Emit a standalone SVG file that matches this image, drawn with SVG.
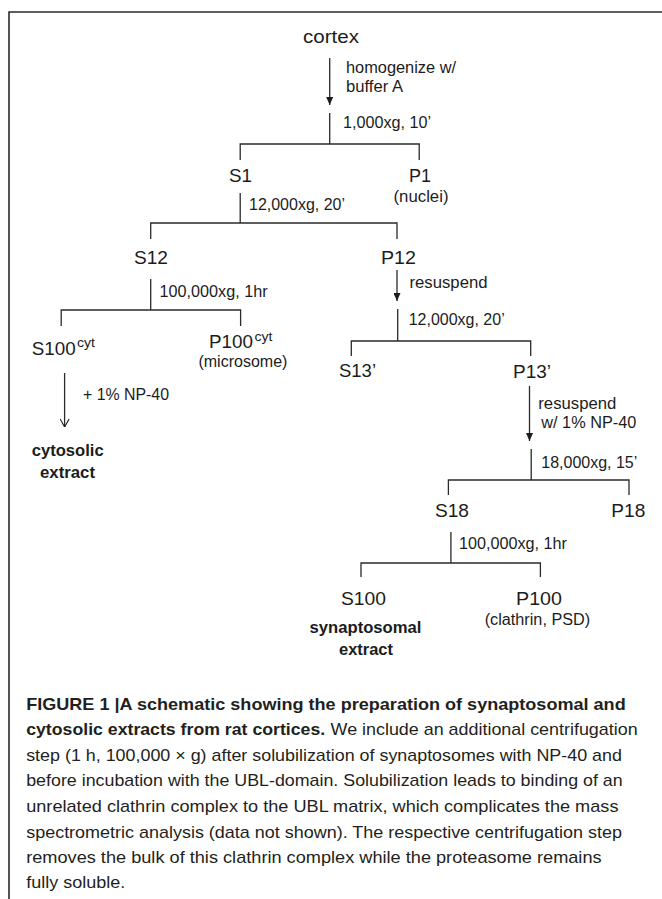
<svg xmlns="http://www.w3.org/2000/svg" width="662" height="899" viewBox="0 0 662 899">
<style>
text{font-family:"Liberation Sans",Arial,sans-serif;fill:#1c1c1c}
.n{font-size:19px}
.s{font-size:16px}
.sup{font-size:13px}
.b{font-size:17px;font-weight:bold}
.cap{font-size:17px;fill:#231f20}
.capb{font-size:17px;font-weight:bold;fill:#231f20}
.ln{stroke:#2a2a2a;stroke-width:1.3;fill:none}
</style>
<defs>
<marker id="af" viewBox="0 0 8 7" refX="8" refY="3.5" markerWidth="8" markerHeight="7" markerUnits="userSpaceOnUse" orient="auto">
<path d="M0,0 L8,3.5 L0,7 z" fill="#1c1c1c"/>
</marker>
<marker id="ao" viewBox="0 0 9 10" refX="8.6" refY="5" markerWidth="9" markerHeight="10" markerUnits="userSpaceOnUse" orient="auto">
<path d="M0.5,0.5 L8.6,5 L0.5,9.5" fill="none" stroke="#1c1c1c" stroke-width="1.1"/>
</marker>
</defs>
<rect width="662" height="899" fill="#fff"/>
<path d="M662,12 H9 V899" fill="none" stroke="#2a2a2a" stroke-width="1.6"/>

<g id="connectors">
<line class="ln" x1="329.7" y1="58" x2="329.7" y2="105" marker-end="url(#af)"/>
<path class="ln" d="M329.7,113 V144 M240.2,160 V144 H419.2 V160"/>
<path class="ln" d="M240.2,193 V223 M150.7,239 V223 H397 V239"/>
<line class="ln" x1="397" y1="270" x2="397" y2="301" marker-end="url(#af)"/>
<path class="ln" d="M150.7,279 V310 M61.2,326 V310 H240.6 V326"/>
<line class="ln" x1="64.6" y1="373" x2="64.6" y2="427" marker-end="url(#ao)"/>
<path class="ln" d="M397.7,309 V341 M351.3,356 V341 H530.7 V356"/>
<line class="ln" x1="529.5" y1="386" x2="529.5" y2="441" marker-end="url(#af)"/>
<path class="ln" d="M531.2,449 V480 M448.4,495 V480 H629 V495"/>
<path class="ln" d="M450.9,532 V563 M361,577 V563 H540.4 V577"/>
</g>

<g id="step-labels">
<text class="s" x="346" y="73" textLength="110" lengthAdjust="spacingAndGlyphs">homogenize w/</text>
<text class="s" x="346" y="92" textLength="57" lengthAdjust="spacingAndGlyphs">buffer A</text>
<text class="s" x="343" y="128" textLength="88" lengthAdjust="spacingAndGlyphs">1,000xg, 10’</text>
<text class="s" x="249" y="210" textLength="96" lengthAdjust="spacingAndGlyphs">12,000xg, 20’</text>
<text class="s" x="409.5" y="288" textLength="78" lengthAdjust="spacingAndGlyphs">resuspend</text>
<text class="s" x="159.6" y="297" textLength="108" lengthAdjust="spacingAndGlyphs">100,000xg, 1hr</text>
<text class="s" x="83" y="400" textLength="86" lengthAdjust="spacingAndGlyphs">+ 1% NP-40</text>
<text class="s" x="408.7" y="325" textLength="96" lengthAdjust="spacingAndGlyphs">12,000xg, 20’</text>
<text class="s" x="538.3" y="409" textLength="78" lengthAdjust="spacingAndGlyphs">resuspend</text>
<text class="s" x="541.3" y="428" textLength="95" lengthAdjust="spacingAndGlyphs">w/ 1% NP-40</text>
<text class="s" x="541.3" y="468" textLength="96" lengthAdjust="spacingAndGlyphs">18,000xg, 15’</text>
<text class="s" x="459" y="549" textLength="108" lengthAdjust="spacingAndGlyphs">100,000xg, 1hr</text>
</g>

<g id="cortex"><text class="n" x="303" y="43" textLength="56" lengthAdjust="spacingAndGlyphs">cortex</text></g>
<g id="S1"><text class="n" x="229" y="182" textLength="23" lengthAdjust="spacingAndGlyphs">S1</text></g>
<g id="P1">
<text class="n" x="409" y="182" textLength="22" lengthAdjust="spacingAndGlyphs">P1</text>
<text class="s" x="393.5" y="202" textLength="55" lengthAdjust="spacingAndGlyphs">(nuclei)</text>
</g>
<g id="S12"><text class="n" x="134" y="264" textLength="34" lengthAdjust="spacingAndGlyphs">S12</text></g>
<g id="P12"><text class="n" x="381" y="264" textLength="35" lengthAdjust="spacingAndGlyphs">P12</text></g>
<g id="S100cyt">
<text class="n" x="31.7" y="355" textLength="44" lengthAdjust="spacingAndGlyphs">S100</text>
<text class="sup" x="77" y="347" textLength="18" lengthAdjust="spacingAndGlyphs">cyt</text>
</g>
<g id="P100cyt">
<text class="n" x="209" y="348" textLength="44" lengthAdjust="spacingAndGlyphs">P100</text>
<text class="sup" x="254.5" y="341" textLength="18" lengthAdjust="spacingAndGlyphs">cyt</text>
<text class="s" x="198.4" y="367" textLength="89" lengthAdjust="spacingAndGlyphs">(microsome)</text>
</g>
<g id="cytosolic-extract">
<text class="b" x="31.7" y="456" textLength="72" lengthAdjust="spacingAndGlyphs">cytosolic</text>
<text class="b" x="40" y="478" textLength="55" lengthAdjust="spacingAndGlyphs">extract</text>
</g>
<g id="S13"><text class="n" x="339" y="377" textLength="37" lengthAdjust="spacingAndGlyphs">S13’</text></g>
<g id="P13"><text class="n" x="513" y="378" textLength="38" lengthAdjust="spacingAndGlyphs">P13’</text></g>
<g id="S18"><text class="n" x="435" y="517" textLength="34" lengthAdjust="spacingAndGlyphs">S18</text></g>
<g id="P18"><text class="n" x="611.3" y="517" textLength="34" lengthAdjust="spacingAndGlyphs">P18</text></g>
<g id="S100">
<text class="n" x="341" y="605" textLength="45" lengthAdjust="spacingAndGlyphs">S100</text>
<text class="b" x="309.5" y="633" textLength="112" lengthAdjust="spacingAndGlyphs">synaptosomal</text>
<text class="b" x="339" y="655" textLength="54" lengthAdjust="spacingAndGlyphs">extract</text>
</g>
<g id="P100">
<text class="n" x="516" y="605" textLength="46" lengthAdjust="spacingAndGlyphs">P100</text>
<text class="s" x="484.7" y="625" textLength="105.5" lengthAdjust="spacingAndGlyphs">(clathrin, PSD)</text>
</g>

<g id="caption">
<text class="capb" x="26.2" y="710" textLength="599.5" lengthAdjust="spacingAndGlyphs">FIGURE 1 |A schematic showing the preparation of synaptosomal and</text>
<text class="capb" x="26.2" y="735" textLength="299" lengthAdjust="spacingAndGlyphs">cytosolic extracts from rat cortices.</text>
<text class="cap" x="330.6" y="735" textLength="307" lengthAdjust="spacingAndGlyphs">We include an additional centrifugation</text>
<text class="cap" x="26.2" y="761" textLength="595.7" lengthAdjust="spacingAndGlyphs">step (1 h, 100,000 × g) after solubilization of synaptosomes with NP-40 and</text>
<text class="cap" x="26.2" y="786" textLength="596.5" lengthAdjust="spacingAndGlyphs">before incubation with the UBL-domain. Solubilization leads to binding of an</text>
<text class="cap" x="26.2" y="812" textLength="592.3" lengthAdjust="spacingAndGlyphs">unrelated clathrin complex to the UBL matrix, which complicates the mass</text>
<text class="cap" x="26.2" y="838" textLength="595.7" lengthAdjust="spacingAndGlyphs">spectrometric analysis (data not shown). The respective centrifugation step</text>
<text class="cap" x="26.2" y="863" textLength="575.4" lengthAdjust="spacingAndGlyphs">removes the bulk of this clathrin complex while the proteasome remains</text>
<text class="cap" x="26.2" y="888" textLength="99.2" lengthAdjust="spacingAndGlyphs">fully soluble.</text>
</g>
</svg>
